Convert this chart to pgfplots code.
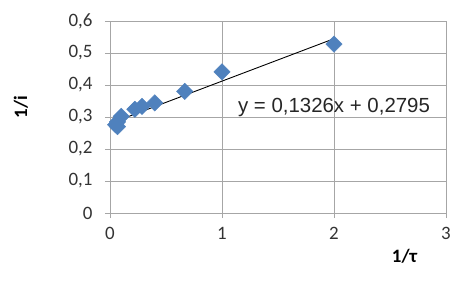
\documentclass[border=0pt]{standalone}
\usepackage{pgfplots}
\pgfplotsset{compat=1.18}
\usepackage{fontspec}
\setmainfont{Carlito}
\newfontfamily\arialfont{Liberation Sans}
\definecolor{exblue}{HTML}{4F81BD}
\definecolor{gridgray}{HTML}{A6A6A6}
\begin{document}
\begin{tikzpicture}
\path[use as bounding box] (-110bp,-91bp) rectangle (365bp,213bp);
\begin{axis}[
  at={(0,0)}, anchor=south west,
  scale only axis, width=336bp, height=192bp,
  xmin=0, xmax=3, ymin=0, ymax=0.6,
  xtick={0,1,2,3}, ytick={0,0.1,0.2,0.3,0.4,0.5,0.6},
  grid=major,
  major grid style={gridgray, line width=0.9pt},
  axis line style={gridgray, line width=0.9pt},
  axis x line*=bottom, axis y line*=left,
  tick style={gridgray, line width=0.9pt},
  tick align=outside, major tick length=5bp,
  /pgf/number format/assume math mode=true,
  /pgf/number format/use comma,
  /pgf/number format/fixed,
  /pgf/number format/precision=1,
  tick label style={font=\fontsize{19}{19}\selectfont, text=black!80},
  yticklabel style={xshift=-9bp},
  xticklabel style={yshift=-6bp},
  clip=false,
]
\addplot[only marks, mark=square*, mark size=5.8bp, color=exblue,
  mark options={rotate=45, fill=exblue, draw=exblue}] coordinates {
  (2.0,0.528) (1.0,0.441) (0.667,0.380) (0.4,0.344) (0.286,0.333)
  (0.222,0.324) (0.1,0.302) (0.067,0.285) (0.05,0.276) (0.067,0.270)
};
\addplot[black, line width=0.9pt] coordinates {(0.05,0.28613) (2.0,0.5447)};
\node[font=\arialfont\fontsize{20.5}{20.5}\selectfont, text=black!85] at (axis cs:2.0,0.331) {y = 0,1326x + 0,2795};
\node[font=\bfseries\fontsize{19}{19}\selectfont, rotate=90] at (axis cs:-0.795,0.331) {1/i};
\node[font=\bfseries\fontsize{19}{19}\selectfont] at (axis cs:2.63,-0.134) {1/τ};
\end{axis}
\end{tikzpicture}
\end{document}
